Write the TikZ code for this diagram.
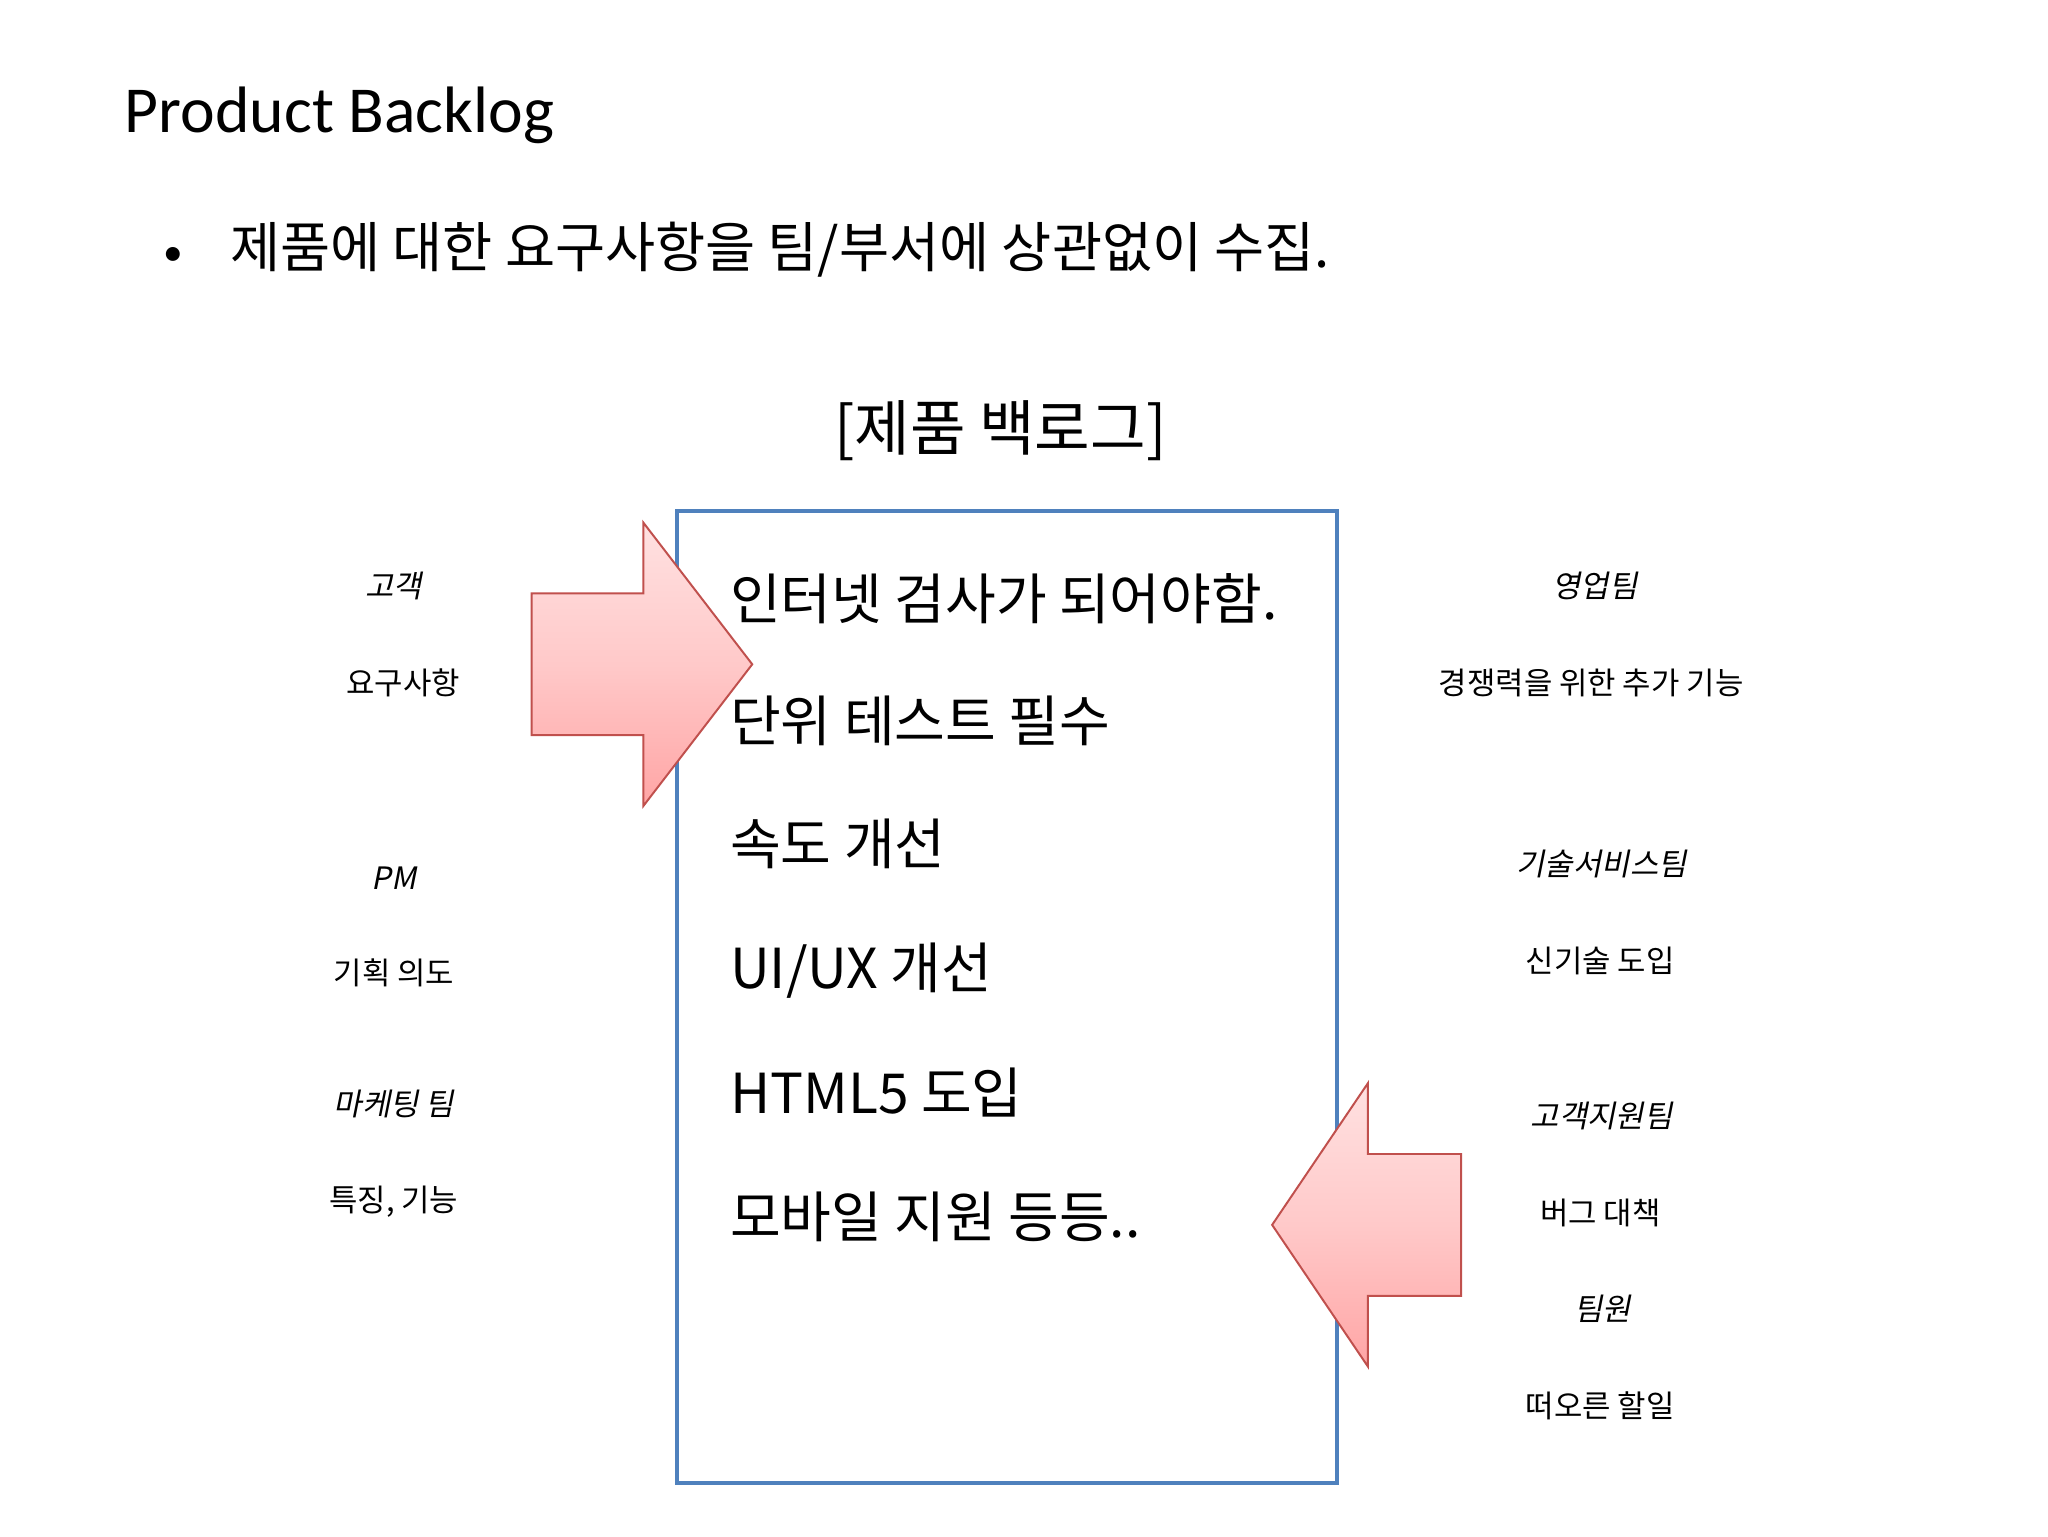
\documentclass[tikz,border=0pt]{standalone}
\usepackage{fontspec}
\setmainfont{Carlito}
\newfontfamily\kr{Noto Sans CJK KR}
\newfontfamily\krit[FakeSlant=0.2]{Noto Sans CJK KR}
\definecolor{boxblue}{RGB}{79,129,189}
\definecolor{arrred}{RGB}{192,80,77}
\definecolor{arrpink}{RGB}{255,165,165}
\definecolor{arrlight}{RGB}{255,225,225}
\begin{document}
\begin{tikzpicture}[x=1pt,y=-1pt,
  item/.style={anchor=west,inner sep=0,font=\kr\fontsize{42}{44}\selectfont},
  lab/.style={inner sep=0,font=\kr\fontsize{23.5}{25}\selectfont},
  ilab/.style={inner sep=0,font=\krit\fontsize{23.5}{25}\selectfont},
  bigarrow/.style={draw=arrred,line width=1.5pt,top color=arrlight,bottom color=arrpink,middle color=arrlight!60!arrpink}]
\useasboundingbox (0,0) rectangle (1560,1170);
\node[anchor=west,inner sep=0,font=\fontsize{50}{54}\selectfont] (title) at (95,88) {Product Backlog};
\node[inner sep=0,font=\fontsize{30}{30}\selectfont] (bul) at (132,195) {•};
\node[anchor=west,inner sep=0,font=\kr\fontsize{41.5}{44}\selectfont] (sub) at (175,190) {제품에 대한 요구사항을 팀/부서에 상관없이 수집.};
\node[inner sep=0,font=\kr\fontsize{46}{48}\selectfont] (cap) at (762,328) {[제품 백로그]};
\node[draw=boxblue,line width=3pt,minimum width=503,minimum height=740,anchor=north west,inner sep=0] (box) at (514,388) {};
\node[item] (i1) at (556,456) {인터넷 검사가 되어야함.};
\node[item] (i2) at (556,549) {단위 테스트 필수};
\node[item] (i3) at (556,643) {속도 개선};
\node[item] (i4) at (556,739) {UI/UX 개선};
\node[item] (i5) at (556,832) {HTML5 도입};
\node[item] (i6) at (556,927) {모바일 지원 등등..};
\node[ilab] (l1) at (300,446) {고객};
\node[lab] (l2) at (307,520) {요구사항};
\node[ilab] (l3) at (300,669) {PM};
\node[lab] (l4) at (300,741) {기획 의도};
\node[ilab] (l5) at (300,841) {마케팅 팀};
\node[lab] (l6) at (300,915) {특징, 기능};
\node[ilab] (r1) at (1215,446) {영업팀};
\node[lab] (r2) at (1212,520) {경쟁력을 위한 추가 기능};
\node[ilab] (r3) at (1220,658) {기술서비스팀};
\node[lab] (r4) at (1219,732) {신기술 도입};
\node[ilab] (r5) at (1220,850) {고객지원팀};
\node[lab] (r6) at (1219,924) {버그 대책};
\node[ilab] (r7) at (1221,997) {팀원};
\node[lab] (r8) at (1219,1071) {떠오른 할일};
\path[bigarrow] (405,452) -- (490,452) -- (490,398) -- (573,506) -- (490,614) -- (490,560) -- (405,560) -- cycle;
\path[bigarrow] (1113,879) -- (1042,879) -- (1042,825) -- (969,933) -- (1042,1041) -- (1042,987) -- (1113,987) -- cycle;
\end{tikzpicture}
\end{document}
